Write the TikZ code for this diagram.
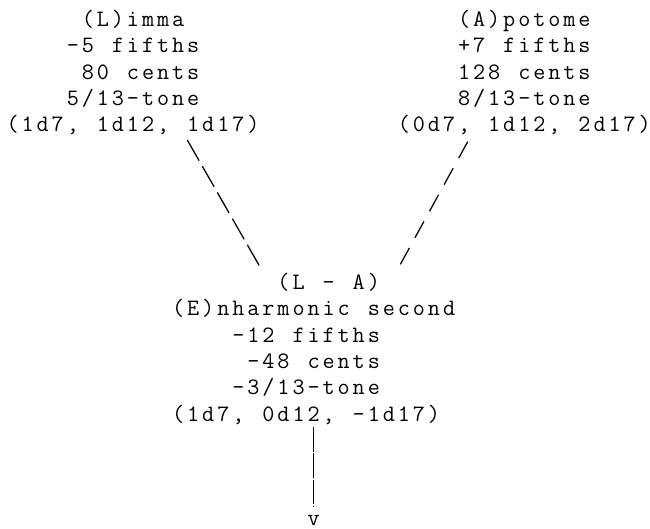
\documentclass[tikz,border=0pt]{standalone}
\newlength\cw
\setlength\cw{15.05pt}
\def\gridend{\gridend}
\def\gridloop#1{\ifx#1\gridend\else\makebox[\cw][c]{#1}\expandafter\gridloop\fi}
\newcommand\gl[1]{\hbox{\gridloop#1\gridend}}
\newcommand\gblock[1]{\vtop{\baselineskip=26.3pt\lineskiplimit=-100pt\lineskip=0pt #1}}
\tikzset{
  asciitext/.style={inner sep=0pt, outer sep=0pt, anchor=base west,
    font=\fontsize{23.5}{26.3}\selectfont\ttfamily},
  backslashline/.style={line width=1.25pt, dash pattern=on 23.75pt off 6.45pt},
  slashline/.style={line width=1.25pt, dash pattern=on 18.7pt off 11.6pt},
  barline/.style={line width=1.25pt, dash pattern=on 24.5pt off 1.6pt},
}
\begin{document}
\begin{tikzpicture}[x=1pt,y=-1pt]
\fill[white] (0,0) rectangle (650,529);
\useasboundingbox (0,0) rectangle (650,529);
\node[asciitext] (lim) at (5.1,26.6) {\gblock{%
  \gl{~~~~~(L)imma}%
  \gl{~~~~-5~fifths}%
  \gl{~~~~~80~cents}%
  \gl{~~~~5/13-tone}%
  \gl{(1d7,~1d12,~1d17)}}};
\node[asciitext] (apo) at (396.4,26.6) {\gblock{%
  \gl{~~~~(A)potome}%
  \gl{~~~~+7~fifths}%
  \gl{~~~~128~cents}%
  \gl{~~~~8/13-tone}%
  \gl{(0d7,~1d12,~2d17)}}};
\node[asciitext] (enh) at (170.65,289.6) {\gblock{%
  \gl{~~~~~~~(L~-~A)}%
  \gl{(E)nharmonic~second}%
  \gl{~~~~-12~fifths}%
  \gl{~~~~~-48~cents}%
  \gl{~~~~-3/13-tone}%
  \gl{(1d7,~0d12,~-1d17)}}};
\node[asciitext] (vtip) at (306.1,525.3) {\gl{v}};
\coordinate (limout) at (187.3,140);
\coordinate (enhinL) at (259.3,265.7);
\coordinate (apoout) at (467.7,141.7);
\coordinate (enhinA) at (400,265);
\draw[backslashline] (limout) -- (enhinL);
\draw[slashline] (apoout) -- (enhinA);
\draw[barline, shorten <=3.0pt, shorten >=7.7pt] (enh.south -| vtip.north) -- (vtip.north);
\end{tikzpicture}
\end{document}
